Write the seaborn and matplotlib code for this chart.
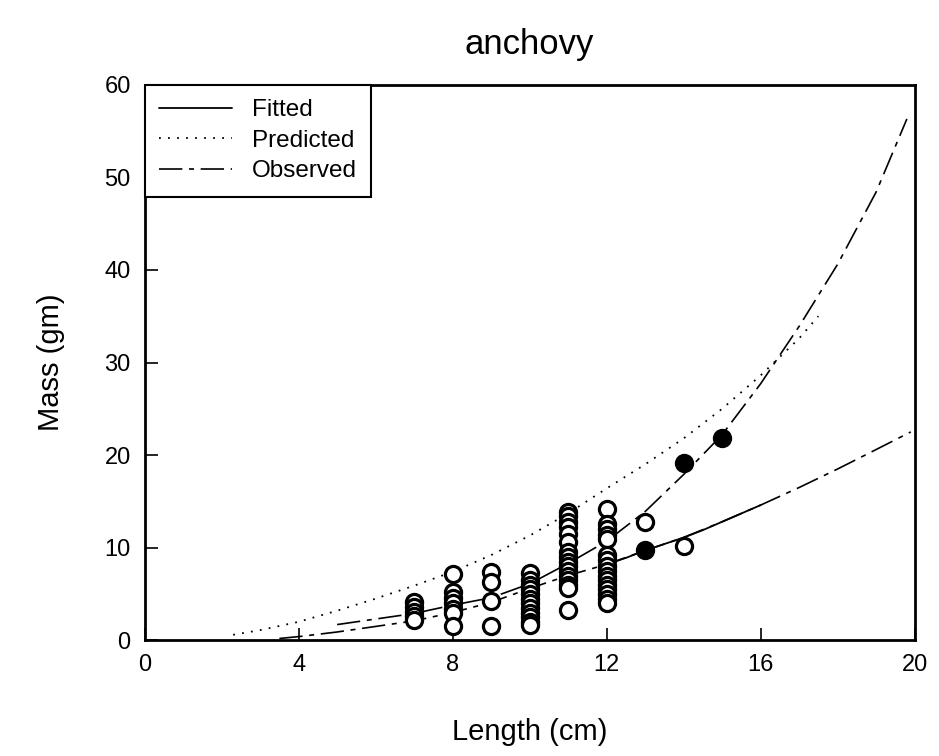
import numpy as np
import pandas as pd
import matplotlib
matplotlib.use("Agg")
import matplotlib.pyplot as plt
import seaborn as sns

# observed fish (length in cm, mass in gm), read column by column
len_open = ([7] * 5 + [8] * 7 + [9] * 4 + [10] * 12 + [11] * 16 + [12] * 16
            + [13, 14])
mass_open = [4.1, 3.6, 3.1, 2.6, 2.2,
             7.2, 5.2, 4.6, 4.0, 3.4, 2.9, 1.6,
             7.4, 6.3, 4.2, 1.6,
             7.3, 6.5, 6.0, 5.5, 5.0, 4.5, 4.0, 3.5, 3.0, 2.5, 2.0, 1.7,
             13.9, 13.4, 12.8, 12.2, 11.5, 10.6, 9.5, 9.0, 8.5, 8.0, 7.5, 7.0,
             6.5, 6.0, 5.6, 3.3,
             14.2, 12.6, 12.0, 11.4, 10.9, 9.2, 8.7, 8.0, 7.5, 7.0, 6.5, 6.0,
             5.5, 5.0, 4.5, 4.0,
             12.8, 10.2]
len_filled = [13, 14, 15]
mass_filled = [9.8, 19.2, 21.8]

# curves
fit_len = [12.0, 12.5, 13.0, 13.5, 14.0, 14.5, 15.0, 15.5, 16.0]
fit_mass = [8.2, 8.9, 9.7, 10.4, 11.1, 11.9, 12.8, 13.7, 14.6]

pred_len = [2.3, 3, 4, 5, 6, 7, 8, 9, 10, 11, 12, 13, 14, 15, 16, 17, 17.5]
pred_mass = [0.6, 1.1, 2.0, 3.2, 4.5, 5.9, 7.4, 9.2, 11.3, 13.7, 16.4, 19.0,
             21.8, 25.0, 28.6, 32.6, 35.0]

obs_low_len = [3.5, 4, 5, 6, 7, 8, 9, 10, 11, 12, 13, 14, 15, 16, 17, 18, 19,
               19.9]
obs_low_mass = [0.2, 0.4, 0.9, 1.5, 2.1, 3.0, 4.1, 5.6, 7.0, 8.2, 9.7, 11.1,
                12.8, 14.6, 16.5, 18.5, 20.6, 22.5]

obs_high_len = [5, 6, 7, 8, 9, 10, 11, 12, 13, 14, 15, 16, 17, 18, 19, 19.8]
obs_high_mass = [1.7, 2.3, 2.9, 3.8, 4.6, 6.1, 8.3, 10.7, 13.9, 17.9, 22.2,
                 27.7, 33.9, 40.6, 48.4, 56.3]

sns.set_theme(style="ticks")
plt.rcParams["font.family"] = ["Liberation Sans", "DejaVu Sans"]
plt.rcParams["text.color"] = "black"
plt.rcParams["axes.labelcolor"] = "black"

fig = plt.figure(figsize=(9.39, 7.56), dpi=100)
ax = fig.add_axes([0.154, 0.153, 0.82, 0.735])

dashdot = (14, 4, 3, 4)

sns.lineplot(x=obs_low_len, y=obs_low_mass, ax=ax, color="black", lw=1.2,
             sort=False, estimator=None)
ax.lines[-1].set_dashes(dashdot)
sns.lineplot(x=obs_high_len, y=obs_high_mass, ax=ax, color="black", lw=1.2,
             sort=False, estimator=None)
ax.lines[-1].set_dashes(dashdot)
obs_line = ax.lines[-1]
sns.lineplot(x=pred_len, y=pred_mass, ax=ax, color="black", lw=1.3,
             sort=False, estimator=None)
ax.lines[-1].set_dashes((1, 4))
pred_line = ax.lines[-1]
sns.lineplot(x=fit_len, y=fit_mass, ax=ax, color="black", lw=1.3,
             sort=False, estimator=None)
fit_line = ax.lines[-1]

sns.scatterplot(x=len_open, y=mass_open, ax=ax, s=135, color="white",
                edgecolor="black", linewidth=2.3, zorder=3)
sns.scatterplot(x=len_filled, y=mass_filled, ax=ax, s=135, color="black",
                edgecolor="black", linewidth=2.3, zorder=3)

ax.set_xlim(0, 20)
ax.set_ylim(0, 60)
ax.set_xticks([0, 4, 8, 12, 16, 20])
ax.set_yticks([0, 10, 20, 30, 40, 50, 60])
ax.tick_params(direction="in", length=9, width=1.2, labelsize=17,
               colors="black", pad=10)
for s in ax.spines.values():
    s.set_visible(True)
    s.set_linewidth(2)
    s.set_color("black")

ax.set_title("anchovy", fontsize=25, pad=22, color="black")
ax.set_xlabel("Length (cm)", fontsize=21, labelpad=30)
ax.set_ylabel("Mass (gm)", fontsize=21, labelpad=28)

leg = ax.legend([fit_line, pred_line, obs_line],
                ["Fitted", "Predicted", "Observed"],
                loc="upper left", borderaxespad=0, fontsize=17.5,
                handlelength=3.0, fancybox=False, framealpha=1,
                edgecolor="black", borderpad=0.6, labelspacing=0.35)
leg.get_frame().set_linewidth(1.5)

fig.savefig("out.png", dpi=100)
